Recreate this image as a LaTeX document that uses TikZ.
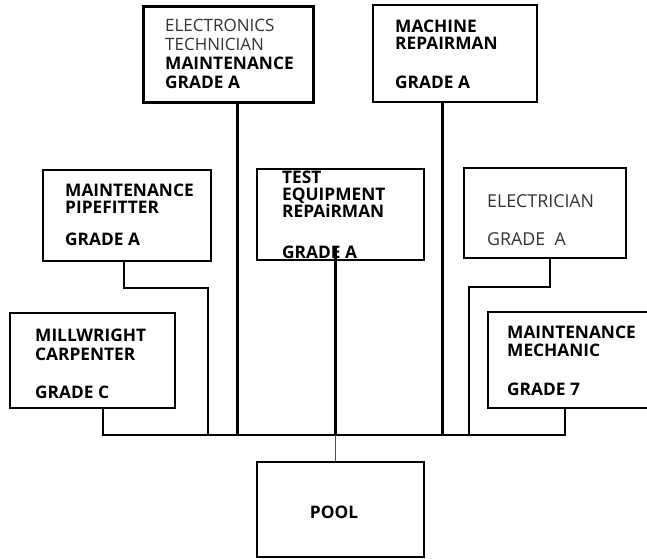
\documentclass[tikz,border=0pt]{standalone}
\usepackage{fontspec}
\setmainfont{Open Sans}
\begin{document}
\begin{tikzpicture}[x=1pt,y=-1pt,
  jobbox/.style={draw=black, line width=2pt, fill=white, inner sep=0pt, rectangle},
  bt/.style={anchor=base west, inner sep=0pt, font=\fontsize{17.3}{17.3}\selectfont\bfseries},
  lt/.style={anchor=base west, inner sep=0pt, text=black!80, font=\fontsize{17}{17}\selectfont},
  main/.style={line width=3pt},
  side/.style={line width=2.2pt},
  thin/.style={line width=0.6pt, draw=black!70}]
\useasboundingbox (0,0) rectangle (647,558);
% boxes
\node[jobbox, line width=3pt, minimum width=170pt, minimum height=96pt] (e) at (228,54) {};
\node[jobbox, minimum width=164pt, minimum height=97pt] (m) at (455,53.5) {};
\node[jobbox, minimum width=168pt, minimum height=91pt] (p) at (127,215.5) {};
\node[jobbox, minimum width=167pt, minimum height=91pt] (t) at (340.5,214.5) {};
\node[jobbox, minimum width=162pt, minimum height=90pt] (el) at (545,213) {};
\node[jobbox, minimum width=165pt, minimum height=95pt] (mw) at (92.5,360.5) {};
\node[jobbox, minimum width=164pt, minimum height=96pt] (mm) at (570,360) {};
\node[jobbox, minimum width=167pt, minimum height=95pt] (pool) at (340.5,509.5) {};
% texts
\node[lt] (e1) at (165,31) {ELECTRONICS};
\node[lt] (e2) at (165,50) {TECHNICIAN};
\node[bt] (e3) at (165,69) {MAINTENANCE};
\node[bt] (e4) at (165,88) {GRADE A};
\node[bt] (m1) at (395,32) {MACHINE};
\node[bt] (m2) at (395,49) {REPAIRMAN};
\node[bt] (m3) at (395,88) {GRADE A};
\node[bt] (p1) at (65,196) {MAINTENANCE};
\node[bt] (p2) at (65,213) {PIPEFITTER};
\node[bt] (p3) at (65,245) {GRADE A};
\node[bt] (t1) at (282,183) {TEST};
\node[bt] (t2) at (282,200) {EQUIPMENT};
\node[bt] (t3) at (282,217) {REPAiRMAN};
\node[bt] (t4) at (282,258) {GRADE A};
\node[lt, font=\fontsize{17.8}{17.8}\selectfont] (l1) at (487,207) {ELECTRICIAN};
\node[lt, font=\fontsize{17.8}{17.8}\selectfont] (l2) at (487,245) {GRADE\ \ A};
\node[bt] (w1) at (35,341) {MILLWRIGHT};
\node[bt] (w2) at (35,360) {CARPENTER};
\node[bt] (w3) at (35,398) {GRADE C};
\node[bt] (h1) at (507,338) {MAINTENANCE};
\node[bt] (h2) at (507,356) {MECHANIC};
\node[bt] (h3) at (507,395) {GRADE 7};
\node[bt, anchor=base] (o1) at (334,518) {POOL};
% bus coordinates
\coordinate (bw) at (103,435);
\coordinate (bp) at (208,435);
\coordinate (be) at (237,435);
\coordinate (bt) at (337,435);
\coordinate (bm) at (442,435);
\coordinate (bl) at (469,435);
\coordinate (bh) at (565,435);
\coordinate (pk) at (124,288);
\coordinate (lk) at (550,287);
\coordinate (tk) at (335,247);
% connectors
\draw[main] (be |- e.south) -- (be);
\draw[main] (bm |- m.south) -- (bm);
\draw[main] (tk) -- (tk |- bt);
\draw[side] (pk |- p.south) -- (pk) -| (bp);
\draw[side] (lk |- el.south) -- (lk) -| (bl);
\draw[side] (bw |- mw.south) -- (bw) -- (bh) -- (bh |- mm.south);
\draw[thin] (tk |- bt) -- (tk |- pool.north);
\end{tikzpicture}
\end{document}
